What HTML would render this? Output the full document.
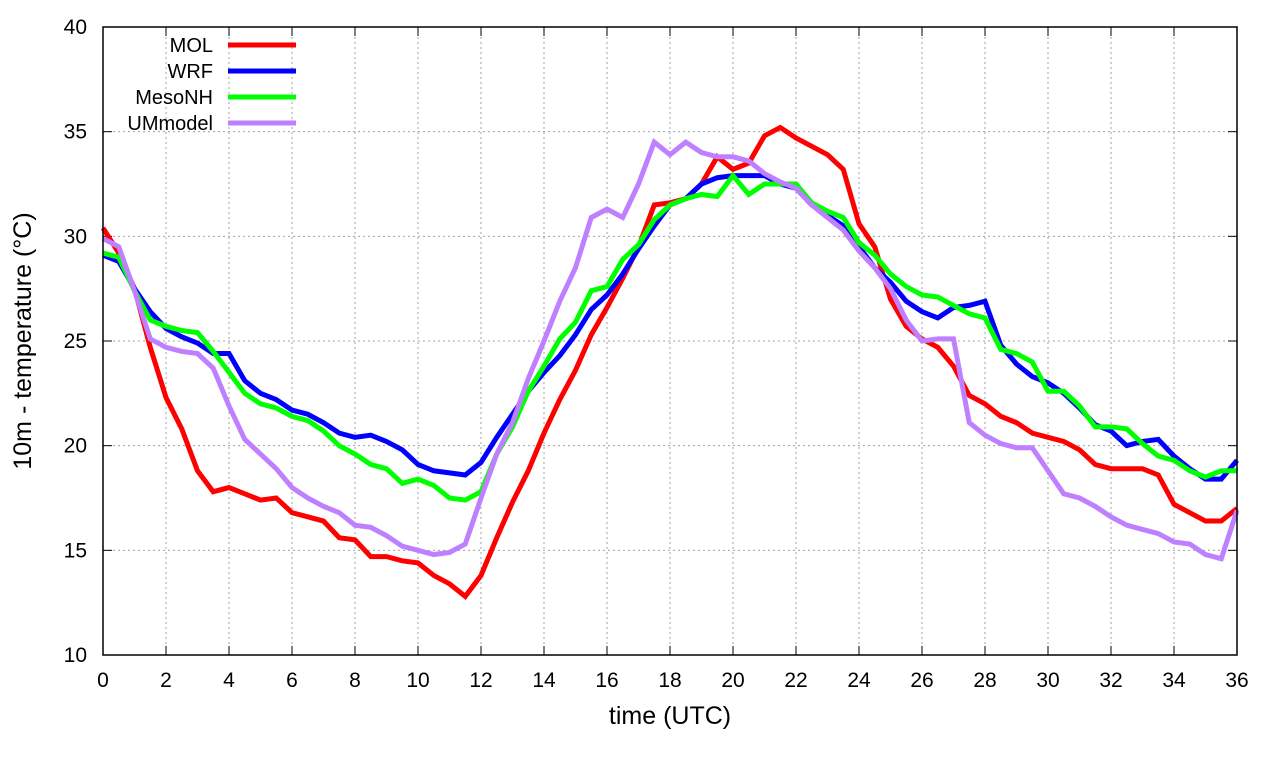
<!DOCTYPE html>
<html><head><meta charset="utf-8"><style>
body{margin:0;background:#fff;}
svg{display:block;font-family:"Liberation Sans",sans-serif;}
</style></head><body>
<svg id="chart" width="1280" height="760" viewBox="0 0 1280 760"></svg>
<script>
const hours = [];
for (let i = 0; i <= 72; i++) hours.push(i / 2);
const xTicks = [0,2,4,6,8,10,12,14,16,18,20,22,24,26,28,30,32,34,36];
const yTicks = [10,15,20,25,30,35,40];
const seriesNames = ["MOL","WRF","MesoNH","UMmodel"];
const seriesColors = ["#ff0000","#0000ff","#00ff00","#bf80ff"];
const molValues = [30.4,29.2,27.5,24.7,22.3,20.8,18.8,17.8,18.0,17.7,17.4,17.5,16.8,16.6,16.4,15.6,15.5,14.7,14.7,14.5,14.4,13.8,13.4,12.8,13.8,15.6,17.3,18.8,20.6,22.2,23.6,25.3,26.6,28.0,29.5,31.5,31.6,31.8,32.5,33.8,33.2,33.5,34.8,35.2,34.7,34.3,33.9,33.2,30.6,29.5,27.0,25.7,25.1,24.7,23.8,22.4,22.0,21.4,21.1,20.6,20.4,20.2,19.8,19.1,18.9,18.9,18.9,18.6,17.2,16.8,16.4,16.4,17.0];
const wrfValues = [29.1,28.8,27.5,26.4,25.6,25.2,24.9,24.4,24.4,23.1,22.5,22.2,21.7,21.5,21.1,20.6,20.4,20.5,20.2,19.8,19.1,18.8,18.7,18.6,19.2,20.4,21.5,22.6,23.5,24.3,25.3,26.5,27.2,28.2,29.4,30.5,31.5,31.8,32.5,32.8,32.9,32.9,32.9,32.5,32.3,31.5,31.0,30.5,29.5,28.5,27.8,26.9,26.4,26.1,26.6,26.7,26.9,24.8,23.9,23.3,23.0,22.5,21.8,21.0,20.7,20.0,20.2,20.3,19.5,18.9,18.4,18.4,19.3];
const mesonhValues = [29.2,29.0,27.4,26.0,25.7,25.5,25.4,24.5,23.5,22.5,22.0,21.8,21.4,21.2,20.7,20.0,19.6,19.1,18.9,18.2,18.4,18.1,17.5,17.4,17.8,19.6,20.9,22.6,23.8,25.1,25.9,27.4,27.6,28.9,29.6,30.8,31.5,31.8,32.0,31.9,32.9,32.0,32.5,32.5,32.5,31.6,31.2,30.9,29.7,29.1,28.2,27.6,27.2,27.1,26.7,26.3,26.1,24.6,24.4,24.0,22.6,22.6,21.9,20.9,20.9,20.8,20.1,19.5,19.3,18.8,18.5,18.8,18.8];
const umValues = [29.9,29.5,27.4,25.1,24.7,24.5,24.4,23.7,21.9,20.3,19.6,18.9,18.0,17.5,17.1,16.8,16.2,16.1,15.7,15.2,15.0,14.8,14.9,15.3,17.5,19.6,21.1,23.2,25.0,26.9,28.5,30.9,31.3,30.9,32.5,34.5,33.9,34.5,34.0,33.8,33.8,33.6,33.0,32.6,32.3,31.5,30.9,30.3,29.3,28.5,27.5,26.0,25.0,25.1,25.1,21.1,20.5,20.1,19.9,19.9,18.8,17.7,17.5,17.1,16.6,16.2,16.0,15.8,15.4,15.3,14.8,14.6,16.9];
const allSeries = [molValues, wrfValues, mesonhValues, umValues];

const L=103,R=1237,T=27,B=655;
const xs = h => L + (h-0)/36*(R-L);
const ys = v => B - (v-10)/30*(B-T);
const NS="http://www.w3.org/2000/svg";
const svg=document.getElementById('chart');
function mk(tag, attrs, parent){const e=document.createElementNS(NS,tag);for(const k in attrs)e.setAttribute(k,attrs[k]);(parent||svg).appendChild(e);return e;}

const grid=mk('g',{});


xTicks.forEach(t=>{
  if(t>0&&t<36) mk('line',{x1:xs(t),x2:xs(t),y1:T,y2:B,stroke:'#a0a0a0','stroke-dasharray':'2,3','stroke-width':1},grid);
  mk('line',{x1:xs(t),x2:xs(t),y1:B,y2:B-9,stroke:'#000'},grid);
  mk('line',{x1:xs(t),x2:xs(t),y1:T,y2:T+9,stroke:'#000'},grid);
  const tx=mk('text',{x:xs(t),y:B+32,'text-anchor':'middle','font-size':21});
  tx.textContent=t;
  
  
});
yTicks.forEach(t=>{
  if(t>10&&t<40) mk('line',{x1:L,x2:R,y1:ys(t),y2:ys(t),stroke:'#a0a0a0','stroke-dasharray':'2,3','stroke-width':1},grid);
  mk('line',{x1:L,x2:L+9,y1:ys(t),y2:ys(t),stroke:'#000'},grid);
  mk('line',{x1:R,x2:R-9,y1:ys(t),y2:ys(t),stroke:'#000'},grid);
  const tx=mk('text',{x:L-16,y:ys(t)+7,'text-anchor':'end','font-size':21});
  tx.textContent=t;
  
  
});

allSeries.forEach((vals,si)=>{
  const p=mk('polyline',{points:vals.map((v,i)=>xs(hours[i])+','+ys(v)).join(' '),fill:'none',stroke:seriesColors[si],'stroke-width':5,'stroke-linejoin':'miter'});
  
  
});

const frame=mk('rect',{x:L,y:T,width:R-L,height:B-T,fill:'none',stroke:'#000','stroke-width':1.5});



seriesNames.forEach((n,i)=>{
  const y=45+i*26;
  const t=mk('text',{x:213,y:y+7,'text-anchor':'end','font-size':20});
  t.textContent=n;
  
  
  const l=mk('line',{x1:228,x2:296,y1:y,y2:y,stroke:seriesColors[i],'stroke-width':5});
  
  
});

const xt=mk('text',{x:(L+R)/2,y:724,'text-anchor':'middle','font-size':25});
xt.textContent='time (UTC)';


const yt=mk('text',{x:0,y:0,'text-anchor':'middle','font-size':25,transform:'translate(31,341) rotate(-90)'});
yt.textContent='10m - temperature (°C)';


</script>
</body></html>
